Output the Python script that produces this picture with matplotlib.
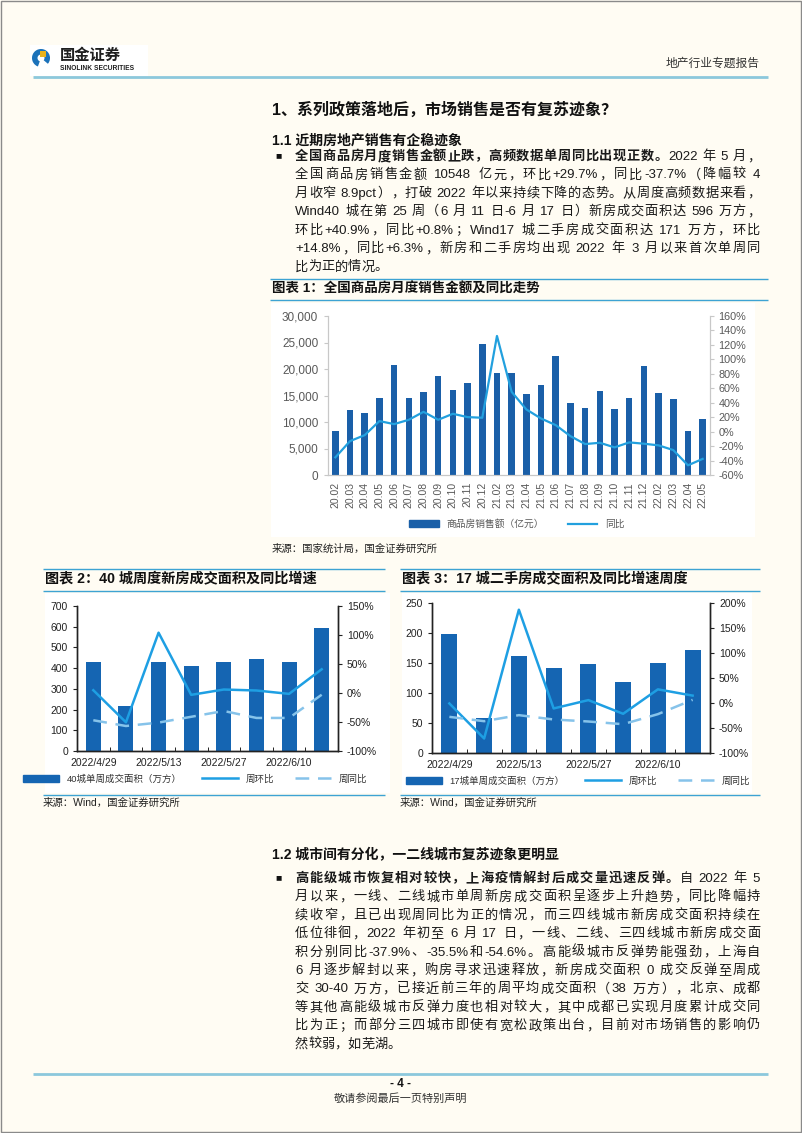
import re
import numpy as np
import matplotlib
matplotlib.use('Agg')
import matplotlib.pyplot as plt
from matplotlib.patches import Rectangle, Wedge, Patch
from matplotlib.lines import Line2D
from matplotlib.ticker import FuncFormatter

W, H = 802, 1133
FAM = ['Liberation Sans', 'Noto Sans CJK SC']
plt.rcParams['font.family'] = FAM
plt.rcParams['axes.unicode_minus'] = False

# 图表1：全国商品房月度销售金额及同比
months = ['20.02', '20.03', '20.04', '20.05', '20.06', '20.07', '20.08', '20.09', '20.10',
          '20.11', '20.12', '21.02', '21.03', '21.04', '21.05', '21.06', '21.07', '21.08',
          '21.09', '21.10', '21.11', '21.12', '22.02', '22.03', '22.04', '22.05']
sales = [8300, 12200, 11700, 14600, 20800, 14600, 15700, 18700, 16100, 17400, 24800,
         19300, 19300, 15300, 16900, 22500, 13600, 12600, 15900, 12400, 14600, 20500,
         15500, 14300, 8300, 10548]
sales_yoy = [-35.6, -13.1, -4.8, 14.6, 10.4, 16.4, 27.4, 16.4, 24.7, 20.1, 19.2,
             132.4, 55.0, 30.7, 18.2, 9.0, -6.2, -17.2, -15.4, -21.8, -14.9, -16.7,
             -19.0, -25.5, -46.6, -37.7]

# 图表2/3：周度数据
weeks = ['2022/4/29', '2022/5/6', '2022/5/13', '2022/5/20', '2022/5/27', '2022/6/3',
         '2022/6/10', '2022/6/17']
new_area = [431, 216, 428, 409, 428, 443, 428, 596]
new_wow = [4.8, -50.5, 104.0, -3.2, 6.0, 4.3, -1.5, 40.9]
new_yoy = [-47.0, -56.9, -51.0, -41.0, -31.0, -43.0, -43.0, -3.0]
sec_area = [199, 58, 162, 142, 148, 118, 150, 171]
sec_wow = [-0.9, -71.0, 186.6, -10.9, 5.8, -21.6, 27.3, 14.8]
sec_yoy = [-27.7, -36.4, -24.3, -33.0, -37.0, -42.4, -22.3, 6.3]

para1 = [
    [('全国商品房月度销售金额止跌，高频数据单周同比出现正数。', 'bold'), ('2022 年 5 月，', 'normal')],
    [('全国商品房销售金额 10548 亿元，环比+29.7%，同比-37.7%（降幅较 4', 'normal')],
    [('月收窄 8.9pct），打破 2022 年以来持续下降的态势。从周度高频数据来看，', 'normal')],
    [('Wind40 城在第 25 周（6 月 11 日-6 月 17 日）新房成交面积达 596 万方，', 'normal')],
    [('环比+40.9%，同比+0.8%；Wind17 城二手房成交面积达 171 万方，环比', 'normal')],
    [('+14.8%，同比+6.3%，新房和二手房均出现 2022 年 3 月以来首次单周同', 'normal')],
    [('比为正的情况。', 'normal')],
]
para2 = [
    [('高能级城市恢复相对较快，上海疫情解封后成交量迅速反弹。', 'bold'), ('自 2022 年 5', 'normal')],
    [('月以来，一线、二线城市单周新房成交面积呈逐步上升趋势，同比降幅持', 'normal')],
    [('续收窄，且已出现周同比为正的情况，而三四线城市新房成交面积持续在', 'normal')],
    [('低位徘徊，2022 年初至 6 月 17 日，一线、二线、三四线城市新房成交面', 'normal')],
    [('积分别同比-37.9%、-35.5%和-54.6%。高能级城市反弹势能强劲，上海自', 'normal')],
    [('6 月逐步解封以来，购房寻求迅速释放，新房成交面积 0 成交反弹至周成', 'normal')],
    [('交 30-40 万方，已接近前三年的周平均成交面积（38 万方），北京、成都', 'normal')],
    [('等其他高能级城市反弹力度也相对较大，其中成都已实现月度累计成交同', 'normal')],
    [('比为正；而部分三四城市即使有宽松政策出台，目前对市场销售的影响仍', 'normal')],
    [('然较弱，如芜湖。', 'normal')],
]

BAR1 = '#1A5FA8'
BAR2 = '#1565B2'
LINE1 = '#22A0DE'
WOW = '#1E9FE3'
YOY = '#86C3EA'
RULE = '#3DA3D3'

fig = plt.figure(figsize=(W / 100, H / 100), dpi=100, facecolor='#FFFCF3')
page = fig.add_axes([0, 0, 1, 1])
page.set_xlim(0, W)
page.set_ylim(H, 0)
page.axis('off')
renderer = fig.canvas.get_renderer()


def rect(x0, y0, x1, y1, fc='white', ec='none', lw=0):
    page.add_patch(Rectangle((x0, y0), x1 - x0, y1 - y0, facecolor=fc, edgecolor=ec, lw=lw))


def rule(x0, x1, y, color=RULE, lw=1.0):
    page.plot([x0, x1], [y, y], color=color, lw=lw, solid_capstyle='butt')


_cache = {}


def tok_width(s, size, weight):
    key = (s, size, weight)
    if key not in _cache:
        if s == ' ':
            _cache[key] = size * 0.278 * 100 / 72
        elif len(s) == 1 and ord(s) > 0x2000:
            _cache[key] = size * 100 / 72
        else:
            t = page.text(0, 0, s, fontsize=size, fontweight=weight)
            _cache[key] = t.get_window_extent(renderer).width
            t.remove()
    return _cache[key]


def put_line(x0, x1, y, segs, size=9.5, justify=True, color='#1a1a1a'):
    toks = []
    for s, wt in segs:
        for tok in re.findall(r'[A-Za-z0-9.%+\-]+| |.', s):
            toks.append((tok, wt))
    widths = [tok_width(t, size, wt) for t, wt in toks]
    gap = 0
    if justify and len(toks) > 1:
        gap = (x1 - x0 - sum(widths)) / (len(toks) - 1)
    x = x0
    for (t, wt), w in zip(toks, widths):
        if t != ' ':
            page.text(x, y, t, fontsize=size, fontweight=wt, color=color,
                      va='baseline', ha='left')
        x += w + gap


# page frame, header, footer
rect(0.5, 0.5, W - 1.5, H - 1.5, fc='none', ec='#8a8a8a', lw=1.0)
rect(30, 45, 148, 76)
page.add_patch(Wedge((41, 58), 9, 110, 400, width=5.5, facecolor='#1B72BA', edgecolor='none'))
page.add_patch(Rectangle((40, 51), 6, 6, facecolor='#E9B21C', edgecolor='none'))
page.text(60, 56, '国金证券', fontsize=11, fontweight='bold', color='#1f1f1f', va='center')
page.text(60, 69, 'SINOLINK SECURITIES', fontsize=4.8, fontweight='bold', color='#1f1f1f', va='center')
page.text(760, 64, '地产行业专题报告', fontsize=8.5, color='#333333', va='center', ha='right')
rule(33, 768, 77, color='#8CC8DC', lw=2.0)

page.text(272, 110, '1、系列政策落地后，市场销售是否有复苏迹象？', fontsize=11.5,
          fontweight='bold', color='#111111', va='center')
page.text(272, 141, '1.1 近期房地产销售有企稳迹象', fontsize=10, fontweight='bold',
          color='#111111', va='center')
page.text(275, 155, '■', fontsize=7.5, color='#111111', va='center')
for i, segs in enumerate(para1):
    put_line(295, 760, 155 + 5 + i * 18.4, segs, justify=(i < len(para1) - 1))

# 图表1 caption & frame
rule(270, 768, 279)
page.text(272, 289, '图表 1：全国商品房月度销售金额及同比走势', fontsize=9.7, fontweight='bold',
          color='#111111', va='center')
rule(270, 768, 300)
rect(271, 303, 755, 537)
page.text(272, 549, '来源：国家统计局，国金证券研究所', fontsize=7.5, color='#222222', va='center')

# 图表2/3 captions & frames
for x0, x1, wx1, cap in [(43, 385, 390, '图表 2：40 城周度新房成交面积及同比增速'),
                         (400, 760, 752, '图表 3：17 城二手房成交面积及同比增速周度')]:
    rule(x0, x1, 569)
    page.text(x0 + 2, 579, cap, fontsize=10.2, fontweight='bold', color='#111111', va='center')
    rule(x0, x1, 591)
    rect(x0 + 2, 593, wx1, 793)
    rule(x0, x1, 795)
    page.text(x0, 803, '来源：Wind，国金证券研究所', fontsize=7.5, color='#222222', va='center')

# section 1.2
page.text(272, 855, '1.2 城市间有分化，一二线城市复苏迹象更明显', fontsize=10, fontweight='bold',
          color='#111111', va='center')
page.text(275, 877, '■', fontsize=7.5, color='#111111', va='center')
for i, segs in enumerate(para2):
    put_line(295, 760, 877 + 5 + i * 18.4, segs, justify=(i < len(para2) - 1))

rule(33, 768, 1074, color='#8CC8DC', lw=2.0)
page.text(401, 1084, '- 4 -', fontsize=8.5, fontweight='bold', color='#111111', va='center', ha='center')
page.text(401, 1099, '敬请参阅最后一页特别声明', fontsize=8, color='#333333', va='center', ha='center')


def axes_px(x0, y0, x1, y1):
    return fig.add_axes([x0 / W, 1 - y1 / H, (x1 - x0) / W, (y1 - y0) / H])


pct = FuncFormatter(lambda v, p: f'{v:.0f}%')

# ---- chart 1
ax1 = axes_px(328, 316, 710, 475)
ax1.set_facecolor('none')
x = np.arange(len(months))
ax1.bar(x, sales, width=0.45, color=BAR1, zorder=2)
ax1.set_xlim(-0.5, len(months) - 0.5)
ax1.set_ylim(0, 30000)
ax1.set_yticks(np.arange(0, 30001, 5000))
ax1.yaxis.set_major_formatter(FuncFormatter(lambda v, p: f'{v:,.0f}'))
ax1.set_xticks(x)
ax1.set_xticklabels(months, rotation=90)
ax1b = ax1.twinx()
ax1b.plot(x, sales_yoy, color=LINE1, lw=1.6, zorder=3)
ax1b.set_ylim(-60, 160)
ax1b.set_yticks(np.arange(-60, 161, 20))
ax1b.yaxis.set_major_formatter(pct)
for a in (ax1, ax1b):
    a.spines['top'].set_visible(False)
    for s in ('left', 'right', 'bottom'):
        a.spines[s].set_color('#C8C8C8')
    a.tick_params(colors='#C8C8C8', labelcolor='#595959', length=3, width=0.8)
ax1.tick_params(axis='y', labelsize=8.5, pad=4)
ax1.tick_params(axis='x', labelsize=7.5, length=0, pad=5)
ax1b.tick_params(axis='y', labelsize=7.8, pad=3)
fig.legend([Patch(color=BAR1), Line2D([], [], color=LINE1, lw=1.6)],
           ['商品房销售额（亿元）', '同比'], loc='center',
           bbox_to_anchor=(517 / W, 1 - 524 / H), ncol=2, frameon=False, fontsize=7,
           handlelength=3.0, handleheight=0.7, columnspacing=2.5, labelcolor='#595959')


def weekly(box, area, wow, yoy, ymax, ystep, rlo, rhi, label, leg_xy):
    ax = axes_px(*box)
    ax.set_facecolor('none')
    xx = np.arange(len(weeks))
    ax.bar(xx, area, width=0.46, color=BAR2, zorder=2)
    ax.set_xlim(-0.5, len(weeks) - 0.5)
    ax.set_ylim(0, ymax)
    ax.set_yticks(np.arange(0, ymax + 1, ystep))
    ax.set_xticks(xx[::2])
    ax.set_xticklabels(weeks[::2])
    ax.set_xticks(np.arange(-0.5, len(weeks), 1), minor=True)
    axr = ax.twinx()
    axr.plot(xx, wow, color=WOW, lw=1.8, zorder=3)
    axr.plot(xx, yoy, color=YOY, lw=1.8, dashes=(5.5, 3.5), zorder=3)
    axr.set_ylim(rlo, rhi)
    axr.set_yticks(np.arange(rlo, rhi + 1, 50))
    axr.yaxis.set_major_formatter(pct)
    for a in (ax, axr):
        a.spines['top'].set_visible(False)
        for s in ('left', 'right', 'bottom'):
            a.spines[s].set_color('#222222')
            a.spines[s].set_linewidth(1.0)
        a.tick_params(colors='#222222', labelcolor='#222222', labelsize=7.5, length=3)
    ax.tick_params(axis='x', which='major', length=0, pad=5)
    ax.tick_params(axis='x', which='minor', direction='in', length=3)
    fig.legend([Patch(color=BAR2), Line2D([], [], color=WOW, lw=1.8),
                Line2D([], [], color=YOY, lw=1.8, dashes=(5.5, 3.5))],
               [label, '周环比', '周同比'], loc='center',
               bbox_to_anchor=(leg_xy[0] / W, 1 - leg_xy[1] / H), ncol=3, frameon=False,
               fontsize=6.8, handlelength=3.8, handleheight=0.75, columnspacing=2.2,
               labelcolor='#333333')


weekly((77, 606, 338, 751), new_area, new_wow, new_yoy, 700, 100, -100, 150,
       '40城单周成交面积（万方）', (195, 779))
weekly((432, 603, 710, 753), sec_area, sec_wow, sec_yoy, 250, 50, -100, 200,
       '17城单周成交面积（万方）', (578, 781))

fig.savefig('out.png', dpi=100, facecolor=fig.get_facecolor())
